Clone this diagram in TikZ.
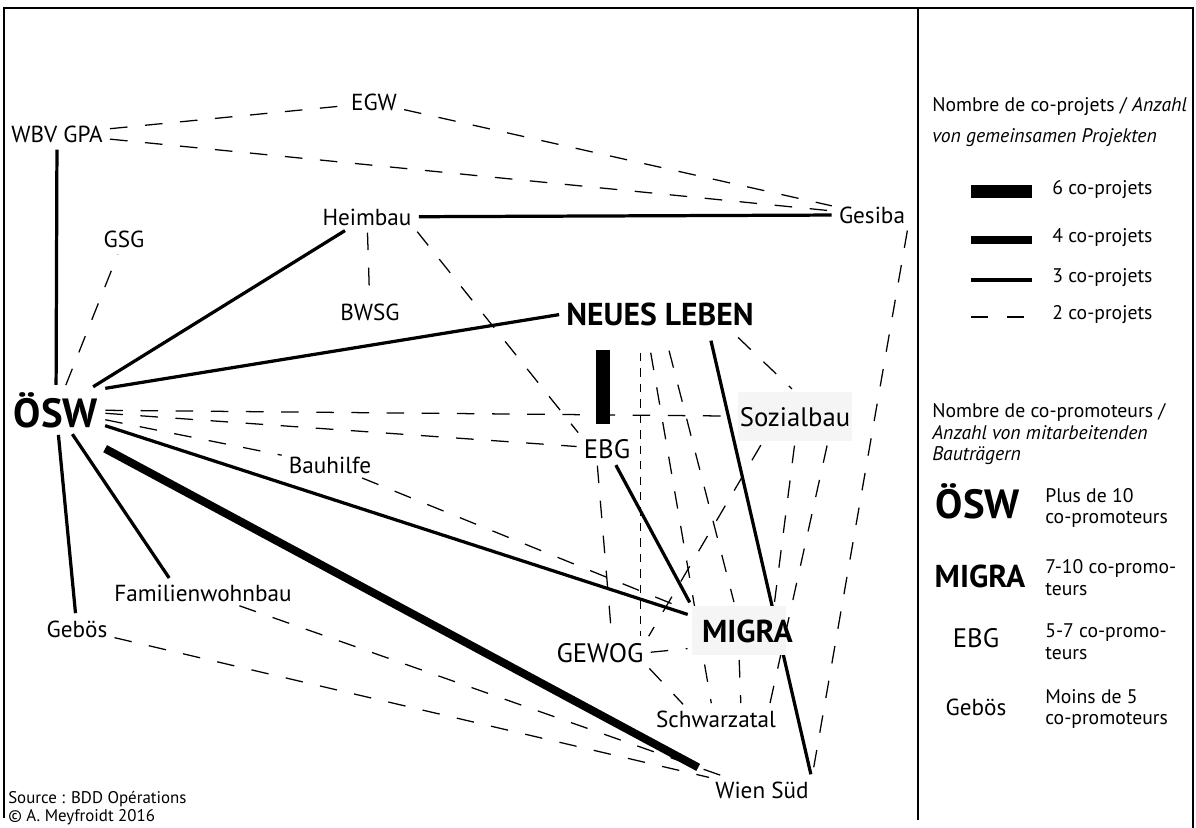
\documentclass[tikz,border=0pt]{standalone}
\usepackage{fontspec}
\setmainfont{PT Sans}
\usetikzlibrary{calc,backgrounds}

\tikzset{
  promoS/.style={font=\fontsize{16.5}{19}\selectfont,inner sep=2pt,anchor=base},
  promoM/.style={font=\fontsize{19}{22}\selectfont,inner sep=2pt,anchor=base},
  promoL/.style={font=\fontsize{22.5}{26}\selectfont\bfseries,inner sep=2pt,anchor=base},
  promoXL/.style={font=\fontsize{29}{33}\selectfont\bfseries,inner sep=2pt,anchor=base},
  greybox/.style={fill=black!4,minimum height=1.225cm},
  legtext/.style={font=\fontsize{14}{15.5}\selectfont,anchor=west,inner sep=0pt,align=left},
  srctext/.style={font=\fontsize{12}{14}\selectfont,anchor=base west,inner sep=0pt},
  copro2/.style={line width=0.9pt,dash pattern=on 12.5pt off 12.5pt,shorten <=3pt,shorten >=3pt},
  copro2fine/.style={copro2,line width=0.7pt,dash pattern=on 6pt off 5pt},
  copro3/.style={line width=2.3pt,shorten <=3pt,shorten >=3pt},
  copro4/.style={line width=5.7pt},
  copro6/.style={line width=10.5pt}
}

\begin{document}
\begin{tikzpicture}[x=0.025cm,y=-0.025cm]
  \useasboundingbox (0,0) rectangle (1196,828);
  \draw[line width=1pt] (4,818) -- (4,8) -- (1193,8) -- (1193,828);
  \draw[line width=1pt] (918,8) -- (918,820);

  \node[promoS] (WBV) at (57,142) {WBV GPA};
  \node[promoS] (EGW) at (374,111) {EGW};
  \node[promoS] (Gesiba) at (872,223) {Gesiba};
  \node[promoS] (Heimbau) at (367,225) {Heimbau};
  \node[promoS] (GSG) at (124,247) {GSG};
  \node[promoS] (BWSG) at (370,320) {BWSG};
  \node[promoL] (NL) at (660,325) {NEUES LEBEN};
  \node[promoXL] (OSW) at (56,427) {ÖSW};
  \node[promoM,greybox,inner xsep=1pt] (Sozialbau) at (795,426) {Sozialbau};
  \node[promoM] (EBG) at (607,458) {EBG};
  \node[promoS] (Bauhilfe) at (330,473) {Bauhilfe};
  \node[promoS] (Fam) at (203,601) {Familienwohnbau};
  \node[promoS] (Gebos) at (77,637) {Gebös};
  \node[promoL,greybox,inner xsep=0.25cm,text width=1.85cm,align=left] (MIGRA) at (739,642) {MIGRA};
  \node[promoM] (GEWOG) at (600,662) {GEWOG};
  \node[promoS] (Schwarzatal) at (716,727) {Schwarzatal};
  \node[promoS] (WienSud) at (762,798) {Wien Süd};

  \begin{scope}[on background layer]
    \foreach \a/\b in {WBV/OSW,OSW/Heimbau,Heimbau/Gesiba,OSW/MIGRA,OSW/Gebos}
      \draw[copro3] (\a) -- (\b);
    \draw[copro3] (OSW.north east) -- (NL.west);
    \draw[copro3] (OSW) -- (Fam.160);
    \draw[copro3] (EBG) -- (MIGRA.north west);
    \draw[copro3] ($(NL.south)+(50,8)$) -- (WienSud.north east);
    \draw[copro4] ($(OSW.south east)+(4,18)$) -- ($(WienSud.north west)+(-14,-11)$);
    \draw[copro6] ($(EBG.north)+(-4,-12)$) -- ($(EBG.north |- NL.south)+(-4,21)$);

    \foreach \a/\b in {WBV/EGW,WBV/Gesiba,EGW/Gesiba,OSW/GSG,Heimbau/BWSG,OSW/Sozialbau,
                       OSW/EBG,OSW/Bauhilfe,Bauhilfe/MIGRA,Fam/WienSud,Gebos/WienSud}
      \draw[copro2] (\a) -- (\b);
    \draw[copro2] (Heimbau.south east) -- (EBG.north west);
    \draw[copro2] (Gesiba.south east) -- (WienSud.north east);
    \draw[copro2] ($(NL.south)+(75,6)$) -- (Sozialbau.north);
    \draw[copro2] ($(Sozialbau.south)+(-32,0)$) -- (GEWOG.north east);
    \draw[copro2] (Sozialbau.south) -- ($(MIGRA.north)+(35,0)$);
    \draw[copro2] ($(Sozialbau.south)+(33,0)$) -- ($(Schwarzatal.north east)+(-10,0)$);
    \draw[copro2fine] ($(NL.south)+(-20,20)$) -- ($(NL.south |- GEWOG.north)+(-20,0)$);
    \draw[copro2] ($(NL.south)+(-10,20)$) -- ($(Schwarzatal.north)+(-4,0)$);
    \draw[copro2] ($(NL.south)+(8,18)$) -- ($(MIGRA.north)+(-4,0)$);
    \draw[copro2] ($(EBG.south)+(-10,0)$) -- ($(GEWOG.north)+(12,0)$);
    \draw[copro2] (GEWOG.east) -- (MIGRA.200);
    \draw[copro2] (GEWOG.south east) -- ($(Schwarzatal.north)+(-30,0)$);
    \draw[copro2] (MIGRA.south) -- ($(Schwarzatal.north)+(25,0)$);
  \end{scope}

  \node[legtext] (legA) at (932,107) {Nombre de co-projets / \textit{Anzahl}};
  \node[legtext] (legB) at (932,138) {\textit{von gemeinsamen Projekten}};
  \node[legtext] (leg6) at (1052,190) {6 co-projets};
  \node[legtext] (leg4) at (1052,238) {4 co-projets};
  \node[legtext] (leg3) at (1052,278) {3 co-projets};
  \node[legtext] (leg2) at (1052,315) {2 co-projets};
  \draw[line width=9.3pt] (971,191.5) -- (1032,191.5);
  \draw[line width=5.7pt] (971,240) -- (1032,240);
  \draw[line width=2.35pt] (971,280) -- (1032,280);
  \draw[line width=0.9pt,dash pattern=on 12.1pt off 13.5pt] (971,317) -- (1032,317);

  \node[legtext,anchor=north west] (legC) at (932,403)
    {Nombre de co-promoteurs /\\\textit{Anzahl von mitarbeitenden}\\\textit{Bauträgern}};
  \node[promoXL] (kOSW) at (978,518) {ÖSW};
  \node[legtext] (tOSW) at (1045,508) {Plus de 10\\co-promoteurs};
  \node[promoL] (kMIGRA) at (980,587) {MIGRA};
  \node[legtext] (tMIGRA) at (1045,578) {7-10 co-promo-\\teurs};
  \node[promoM] (kEBG) at (976,647) {EBG};
  \node[legtext] (tEBG) at (1045,642) {5-7 co-promo-\\teurs};
  \node[promoS] (kGebos) at (976,715) {Gebös};
  \node[legtext] (tGebos) at (1045,709) {Moins de 5\\co-promoteurs};

  \node[srctext] (src) at (8,803) {Source : BDD Opérations};
  \node[srctext] (copy) at (8,821) {© A. Meyfroidt 2016};
\end{tikzpicture}
\end{document}
